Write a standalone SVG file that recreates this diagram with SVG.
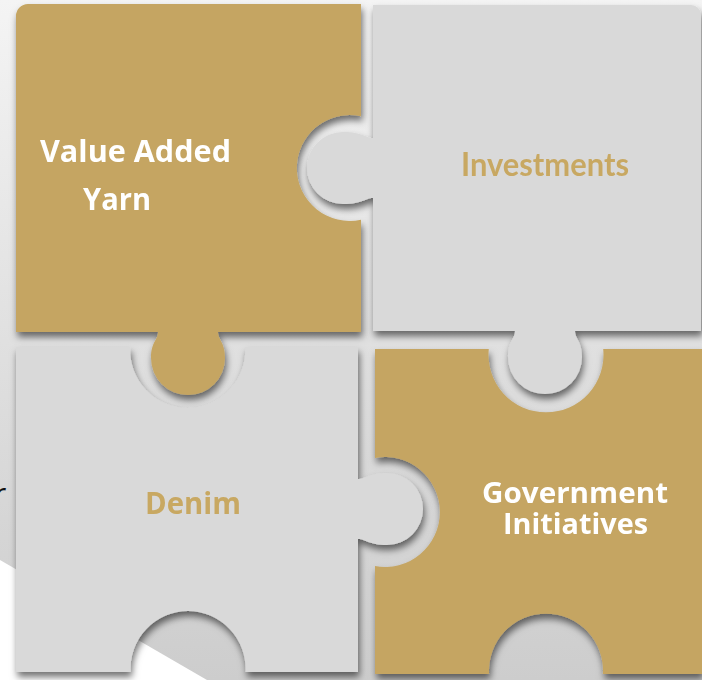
<svg xmlns="http://www.w3.org/2000/svg" width="702" height="680" viewBox="0 0 702 680">
  <defs>
    <linearGradient id="bg" x1="0" y1="0" x2="0" y2="1">
      <stop offset="0" stop-color="#f4f4f4"/>
      <stop offset="0.45" stop-color="#e2e2e2"/>
      <stop offset="1" stop-color="#cdcdcd"/>
    </linearGradient>
    <filter id="shadow" x="-10%" y="-10%" width="125%" height="125%">
      <feDropShadow dx="1.5" dy="5" stdDeviation="3.5" flood-color="#000" flood-opacity="0.55"/>
    </filter>
    <style>
      .gold { fill: #C5A562; }
      .gray { fill: #D9D9D9; }
      .lblw { font-family: "Open Sans", "Noto Sans", "DejaVu Sans", sans-serif; font-weight: 700; fill: #FFFFFF; }
      .lblg { font-family: "Open Sans", "Noto Sans", "DejaVu Sans", sans-serif; font-weight: 700; fill: #C8A862; }
      .lblc { font-family: Lato, "Open Sans", sans-serif; font-weight: 700; fill: #C8A862; }
    </style>
  </defs>

  <!-- background -->
  <rect x="0" y="0" width="702" height="680" fill="url(#bg)"/>
  <polygon points="0,560 207,680 0,680" fill="#FFFFFF"/>
  <text x="-6" y="504" font-family="'Open Sans', 'Noto Sans', sans-serif" font-size="30" fill="#111111">r</text>

  <g id="connectors"></g>

  <!-- Top-left: Value Added Yarn -->
  <g id="node-value-added-yarn" filter="url(#shadow)">
    <path class="gold" d="M16,16 A12,12 0 0 1 28,4 L361,4 L361,116.2 A53,53 0 1 0 361,219.8 L361,332 L218,332 C218,340 225,342 225,358 A37,37 0 1 1 151,358 C151,342 158,340 158,332 L16,332 Z"/>
    <text class="lblw" x="40" y="162" font-size="31" textLength="191" lengthAdjust="spacingAndGlyphs">Value Added</text>
    <text class="lblw" x="83" y="210" font-size="31" textLength="68" lengthAdjust="spacingAndGlyphs">Yarn</text>
  </g>

  <!-- Top-right: Investments -->
  <g id="node-investments" filter="url(#shadow)">
    <path class="gray" d="M373,5 L691,5 A10,10 0 0 1 701,15 L701,331 L575,331 C575,339 582,341 582,357 A37,37 0 1 1 508,357 C508,341 515,339 515,331 L373,331 L373,198 C365,198 363,204 343,204 A36,36 0 1 1 343,132 C363,132 365,138 373,138 Z"/>
    <text class="lblc" x="461" y="176" font-size="33" textLength="168" lengthAdjust="spacingAndGlyphs">Investments</text>
  </g>

  <!-- Bottom-left: Denim -->
  <g id="node-denim" filter="url(#shadow)">
    <path class="gray" d="M16,347 L130.3,347 A57.5,57.5 0 1 0 245.1,347 L358,347 L358,479 C366,479 368,473 387,473 A36,36 0 1 1 387,545 C368,545 366,539 358,539 L358,672 L245.4,672 A57.5,57.5 0 1 0 130.6,672 L16,672 Z"/>
    <text class="lblg" x="145" y="514" font-size="30" textLength="96" lengthAdjust="spacingAndGlyphs">Denim</text>
  </g>

  <!-- Bottom-right: Government Initiatives -->
  <g id="node-government-initiatives" filter="url(#shadow)">
    <path class="gold" d="M375,349 L488.8,349 A57.5,57.5 0 1 0 603.2,349 L702,349 L702,674 L602.9,674 A57,57 0 1 0 489.1,674 L375,674 L375,566.1 A55,55 0 1 0 375,457.9 Z"/>
    <text class="lblw" x="482" y="503" font-size="29" textLength="186" lengthAdjust="spacingAndGlyphs">Government</text>
    <text class="lblw" x="503" y="534" font-size="29" textLength="145" lengthAdjust="spacingAndGlyphs">Initiatives</text>
  </g>
</svg>
